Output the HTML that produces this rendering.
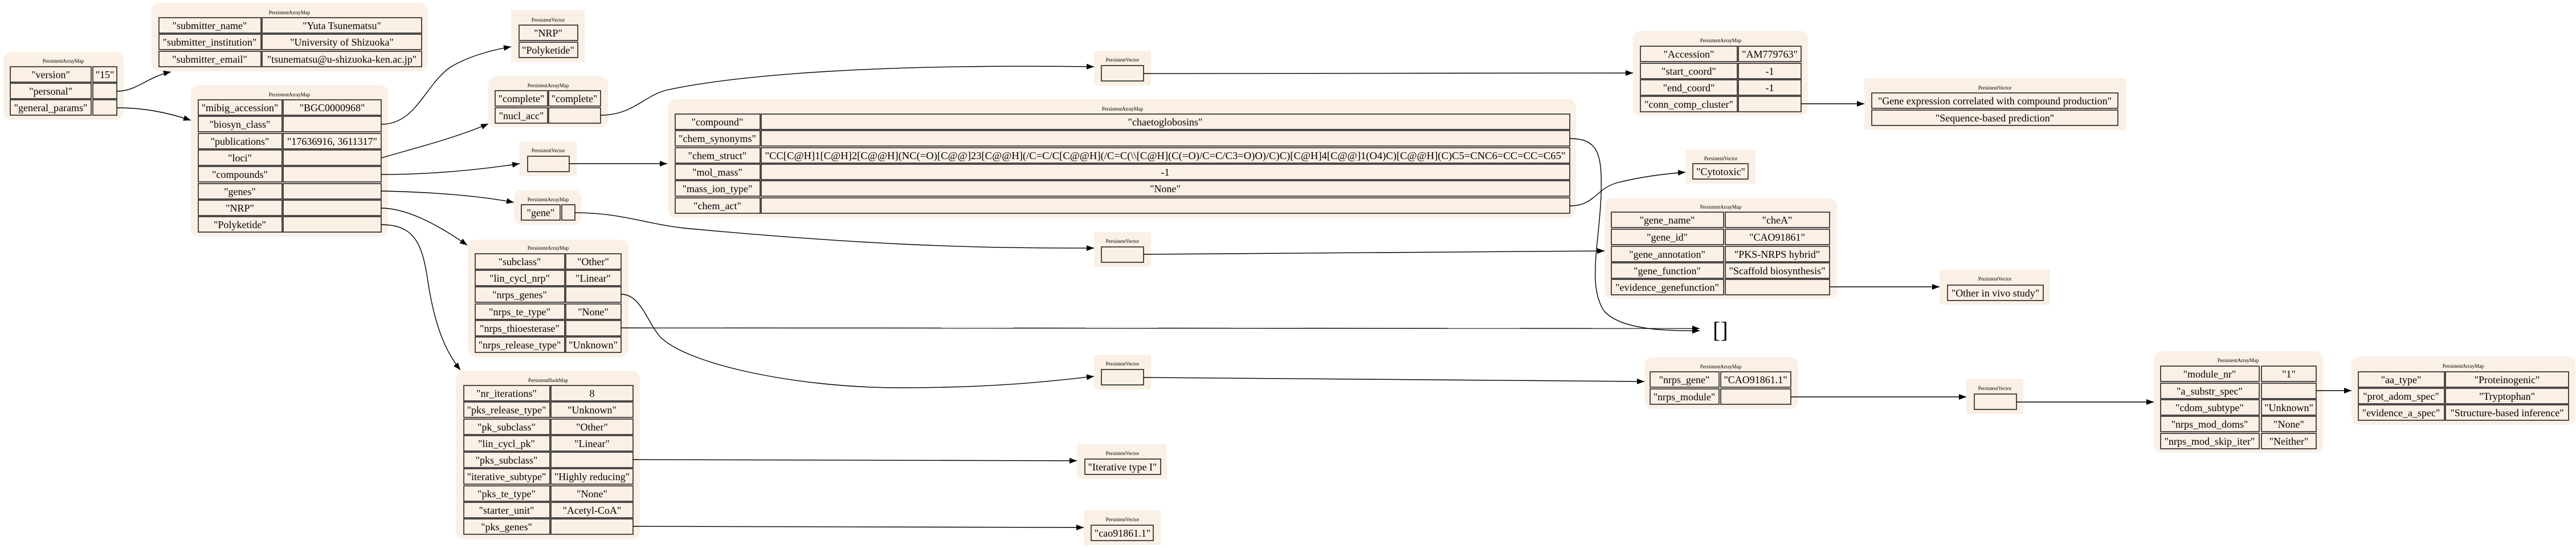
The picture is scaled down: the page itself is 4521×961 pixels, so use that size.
<!DOCTYPE html>
<html><head><meta charset="utf-8"><style>
html,body{margin:0;padding:0;background:#fff;}
svg{display:block;}
.bg{fill:#faf0e6;}
.c{fill:#faf0e6;stroke:#222;stroke-width:1.6;}
.t{font-family:"Liberation Serif",serif;font-size:18px;text-anchor:middle;fill:#000;}
.h{font-family:"Liberation Serif",serif;font-size:9px;text-anchor:middle;fill:#000;}
.e{fill:none;stroke:#000;stroke-width:1.4;}
</style></head><body>
<svg width="4521" height="961" viewBox="0 0 4521 961" xmlns="http://www.w3.org/2000/svg">
<defs><marker id="a" markerUnits="userSpaceOnUse" markerWidth="14" markerHeight="10" refX="13" refY="5" orient="auto"><polygon points="0,0 13,5 0,10" fill="#000"/></marker></defs>

<!-- root -->
<rect class="bg" x="6" y="91" width="211" height="119" rx="14"/>
<text class="h" x="111" y="110">PersistentArrayMap</text>
<rect class="c" x="18" y="117" width="142" height="27"/><text class="t" x="89" y="137">"version"</text>
<rect class="c" x="163" y="117" width="42" height="27"/><text class="t" x="184" y="137">"15"</text>
<rect class="c" x="18" y="146" width="142" height="27"/><text class="t" x="89" y="166">"personal"</text>
<rect class="c" x="163" y="146" width="42" height="27"/>
<rect class="c" x="18" y="175" width="142" height="27"/><text class="t" x="89" y="195">"general_params"</text>
<rect class="c" x="163" y="175" width="42" height="27"/>

<!-- submitter -->
<rect class="bg" x="266" y="5" width="485" height="120" rx="14"/>
<text class="h" x="508" y="25">PersistentArrayMap</text>
<rect class="c" x="279" y="31" width="179" height="27"/><text class="t" x="368" y="51">"submitter_name"</text>
<rect class="c" x="460" y="31" width="280" height="27"/><text class="t" x="600" y="51">"Yuta Tsunematsu"</text>
<rect class="c" x="279" y="60" width="179" height="27"/><text class="t" x="368" y="80">"submitter_institution"</text>
<rect class="c" x="460" y="60" width="280" height="27"/><text class="t" x="600" y="80">"University of Shizuoka"</text>
<rect class="c" x="279" y="90" width="179" height="27"/><text class="t" x="368" y="110">"submitter_email"</text>
<rect class="c" x="460" y="90" width="280" height="27"/><text class="t" x="600" y="110">"tsunematsu@u-shizuoka-ken.ac.jp"</text>

<!-- general -->
<rect class="bg" x="335" y="149" width="346" height="266" rx="14"/>
<text class="h" x="508" y="169">PersistentArrayMap</text>
<g>
<rect class="c" x="348" y="175" width="147" height="27"/><text class="t" x="421" y="195">"mibig_accession"</text>
<rect class="c" x="497" y="175" width="172" height="27"/><text class="t" x="583" y="195">"BGC0000968"</text>
<rect class="c" x="348" y="204" width="147" height="27"/><text class="t" x="421" y="224">"biosyn_class"</text>
<rect class="c" x="497" y="204" width="172" height="27"/>
<rect class="c" x="348" y="234" width="147" height="27"/><text class="t" x="421" y="254">"publications"</text>
<rect class="c" x="497" y="234" width="172" height="27"/><text class="t" x="583" y="254">"17636916, 3611317"</text>
<rect class="c" x="348" y="263" width="147" height="27"/><text class="t" x="421" y="283">"loci"</text>
<rect class="c" x="497" y="263" width="172" height="27"/>
<rect class="c" x="348" y="292" width="147" height="27"/><text class="t" x="421" y="312">"compounds"</text>
<rect class="c" x="497" y="292" width="172" height="27"/>
<rect class="c" x="348" y="322" width="147" height="27"/><text class="t" x="421" y="342">"genes"</text>
<rect class="c" x="497" y="322" width="172" height="27"/>
<rect class="c" x="348" y="351" width="147" height="27"/><text class="t" x="421" y="371">"NRP"</text>
<rect class="c" x="497" y="351" width="172" height="27"/>
<rect class="c" x="348" y="380" width="147" height="27"/><text class="t" x="421" y="400">"Polyketide"</text>
<rect class="c" x="497" y="380" width="172" height="27"/>
</g>

<!-- NRP/Polyketide vector -->
<rect class="bg" x="897" y="18" width="129" height="91"/>
<text class="h" x="962" y="38">PersistentVector</text>
<rect class="c" x="911" y="44" width="103" height="27"/><text class="t" x="962" y="64">"NRP"</text>
<rect class="c" x="911" y="74" width="103" height="27"/><text class="t" x="962" y="94">"Polyketide"</text>

<!-- complete map -->
<rect class="bg" x="857" y="133" width="210" height="90" rx="14"/>
<text class="h" x="962" y="153">PersistentArrayMap</text>
<rect class="c" x="869" y="159" width="92" height="27"/><text class="t" x="915" y="179">"complete"</text>
<rect class="c" x="963" y="159" width="91" height="27"/><text class="t" x="1008" y="179">"complete"</text>
<rect class="c" x="869" y="189" width="92" height="27"/><text class="t" x="915" y="209">"nucl_acc"</text>
<rect class="c" x="963" y="189" width="91" height="27"/>

<!-- vector2 -->
<rect class="bg" x="912" y="248" width="100" height="61"/>
<text class="h" x="962" y="267">PersistentVector</text>
<rect class="c" x="926" y="274" width="73" height="27"/>

<!-- gene map -->
<rect class="bg" x="902" y="333" width="119" height="61" rx="14"/>
<text class="h" x="962" y="353">PersistentArrayMap</text>
<rect class="c" x="915" y="359" width="68" height="27"/><text class="t" x="949" y="379">"gene"</text>
<rect class="c" x="986" y="359" width="23" height="27"/>

<!-- NRP map -->
<rect class="bg" x="821" y="420" width="282" height="206" rx="14"/>
<text class="h" x="962" y="438">PersistentArrayMap</text>
<rect class="c" x="834" y="445" width="157" height="27"/><text class="t" x="912" y="465">"subclass"</text>
<rect class="c" x="993" y="445" width="97" height="27"/><text class="t" x="1041" y="465">"Other"</text>
<rect class="c" x="834" y="474" width="157" height="27"/><text class="t" x="912" y="494">"lin_cycl_nrp"</text>
<rect class="c" x="993" y="474" width="97" height="27"/><text class="t" x="1041" y="494">"Linear"</text>
<rect class="c" x="834" y="503" width="157" height="27"/><text class="t" x="912" y="523">"nrps_genes"</text>
<rect class="c" x="993" y="503" width="97" height="27"/>
<rect class="c" x="834" y="533" width="157" height="27"/><text class="t" x="912" y="553">"nrps_te_type"</text>
<rect class="c" x="993" y="533" width="97" height="27"/><text class="t" x="1041" y="553">"None"</text>
<rect class="c" x="834" y="562" width="157" height="27"/><text class="t" x="912" y="582">"nrps_thioesterase"</text>
<rect class="c" x="993" y="562" width="97" height="27"/>
<rect class="c" x="834" y="591" width="157" height="27"/><text class="t" x="912" y="611">"nrps_release_type"</text>
<rect class="c" x="993" y="591" width="97" height="27"/><text class="t" x="1041" y="611">"Unknown"</text>

<!-- PKS hashmap -->
<rect class="bg" x="800" y="650" width="323" height="296" rx="14"/>
<text class="h" x="962" y="670">PersistentHashMap</text>
<rect class="c" x="814" y="676" width="151" height="27"/><text class="t" x="889" y="696">"nr_iterations"</text>
<rect class="c" x="967" y="676" width="144" height="27"/><text class="t" x="1039" y="696">8</text>
<rect class="c" x="814" y="705" width="151" height="27"/><text class="t" x="889" y="725">"pks_release_type"</text>
<rect class="c" x="967" y="705" width="144" height="27"/><text class="t" x="1039" y="725">"Unknown"</text>
<rect class="c" x="814" y="735" width="151" height="27"/><text class="t" x="889" y="755">"pk_subclass"</text>
<rect class="c" x="967" y="735" width="144" height="27"/><text class="t" x="1039" y="755">"Other"</text>
<rect class="c" x="814" y="764" width="151" height="27"/><text class="t" x="889" y="784">"lin_cycl_pk"</text>
<rect class="c" x="967" y="764" width="144" height="27"/><text class="t" x="1039" y="784">"Linear"</text>
<rect class="c" x="814" y="793" width="151" height="27"/><text class="t" x="889" y="813">"pks_subclass"</text>
<rect class="c" x="967" y="793" width="144" height="27"/>
<rect class="c" x="814" y="822" width="151" height="27"/><text class="t" x="889" y="842">"iterative_subtype"</text>
<rect class="c" x="967" y="822" width="144" height="27"/><text class="t" x="1039" y="842">"Highly reducing"</text>
<rect class="c" x="814" y="852" width="151" height="27"/><text class="t" x="889" y="872">"pks_te_type"</text>
<rect class="c" x="967" y="852" width="144" height="27"/><text class="t" x="1039" y="872">"None"</text>
<rect class="c" x="814" y="881" width="151" height="27"/><text class="t" x="889" y="901">"starter_unit"</text>
<rect class="c" x="967" y="881" width="144" height="27"/><text class="t" x="1039" y="901">"Acetyl-CoA"</text>
<rect class="c" x="814" y="910" width="151" height="27"/><text class="t" x="889" y="930">"pks_genes"</text>
<rect class="c" x="967" y="910" width="144" height="27"/>

<!-- compound map -->
<rect class="bg" x="1172" y="174" width="1594" height="208" rx="14"/>
<text class="h" x="1970" y="194">PersistentArrayMap</text>
<rect class="c" x="1185" y="200" width="149" height="27"/><text class="t" x="1259" y="220">"compound"</text>
<rect class="c" x="1336" y="200" width="1419" height="27"/><text class="t" x="2045" y="220">"chaetoglobosins"</text>
<rect class="c" x="1185" y="229" width="149" height="27"/><text class="t" x="1259" y="249">"chem_synonyms"</text>
<rect class="c" x="1336" y="229" width="1419" height="27"/>
<rect class="c" x="1185" y="259" width="149" height="27"/><text class="t" x="1259" y="279">"chem_struct"</text>
<rect class="c" x="1336" y="259" width="1419" height="27"/><text class="t" x="2045" y="279" textLength="1405" lengthAdjust="spacingAndGlyphs">"CC[C@H]1[C@H]2[C@@H](NC(=O)[C@@]23[C@@H](/C=C/C[C@@H](/C=C(\\[C@H](C(=O)/C=C/C3=O)O)/C)C)[C@H]4[C@@]1(O4)C)[C@@H](C)C5=CNC6=CC=CC=C65"</text>
<rect class="c" x="1185" y="288" width="149" height="27"/><text class="t" x="1259" y="308">"mol_mass"</text>
<rect class="c" x="1336" y="288" width="1419" height="27"/><text class="t" x="2045" y="308">-1</text>
<rect class="c" x="1185" y="317" width="149" height="27"/><text class="t" x="1259" y="337">"mass_ion_type"</text>
<rect class="c" x="1336" y="317" width="1419" height="27"/><text class="t" x="2045" y="337">"None"</text>
<rect class="c" x="1185" y="347" width="149" height="27"/><text class="t" x="1259" y="367">"chem_act"</text>
<rect class="c" x="1336" y="347" width="1419" height="27"/>

<!-- vector3 -->
<rect class="bg" x="1920" y="89" width="100" height="61"/>
<text class="h" x="1970" y="108">PersistentVector</text>
<rect class="c" x="1933" y="115" width="74" height="27"/>
<!-- vector4 -->
<rect class="bg" x="1920" y="407" width="100" height="61"/>
<text class="h" x="1970" y="426">PersistentVector</text>
<rect class="c" x="1933" y="433" width="74" height="27"/>
<!-- vector5 -->
<rect class="bg" x="1920" y="622" width="100" height="61"/>
<text class="h" x="1970" y="641">PersistentVector</text>
<rect class="c" x="1933" y="648" width="74" height="27"/>
<!-- iterative -->
<rect class="bg" x="1890" y="779" width="158" height="61"/>
<text class="h" x="1970" y="798">PersistentVector</text>
<rect class="c" x="1904" y="805" width="133" height="27"/><text class="t" x="1970" y="825">"Iterative type I"</text>
<!-- cao -->
<rect class="bg" x="1902" y="895" width="135" height="61"/>
<text class="h" x="1970" y="914">PersistentVector</text>
<rect class="c" x="1915" y="921" width="109" height="27"/><text class="t" x="1970" y="941">"cao91861.1"</text>

<!-- loci map -->
<rect class="bg" x="2866" y="54" width="307" height="149" rx="14"/>
<text class="h" x="3020" y="74">PersistentArrayMap</text>
<rect class="c" x="2879" y="81" width="170" height="27"/><text class="t" x="2964" y="101">"Accession"</text>
<rect class="c" x="3051" y="81" width="110" height="27"/><text class="t" x="3106" y="101">"AM779763"</text>
<rect class="c" x="2879" y="111" width="170" height="27"/><text class="t" x="2964" y="131">"start_coord"</text>
<rect class="c" x="3051" y="111" width="110" height="27"/><text class="t" x="3106" y="131">-1</text>
<rect class="c" x="2879" y="140" width="170" height="27"/><text class="t" x="2964" y="160">"end_coord"</text>
<rect class="c" x="3051" y="140" width="110" height="27"/><text class="t" x="3106" y="160">-1</text>
<rect class="c" x="2879" y="169" width="170" height="27"/><text class="t" x="2964" y="189">"conn_comp_cluster"</text>
<rect class="c" x="3051" y="169" width="110" height="27"/>

<!-- gene expr vector -->
<rect class="bg" x="3272" y="137" width="459" height="91"/>
<text class="h" x="3501" y="157">PersistentVector</text>
<rect class="c" x="3285" y="163" width="432" height="27"/><text class="t" x="3501" y="183">"Gene expression correlated with compound production"</text>
<rect class="c" x="3285" y="193" width="432" height="27"/><text class="t" x="3501" y="213">"Sequence-based prediction"</text>

<!-- cytotoxic -->
<rect class="bg" x="2958" y="262" width="123" height="60"/>
<text class="h" x="3020" y="281">PersistentVector</text>
<rect class="c" x="2971" y="287" width="97" height="27"/><text class="t" x="3020" y="307">"Cytotoxic"</text>

<!-- gene info map -->
<rect class="bg" x="2816" y="347" width="408" height="177" rx="14"/>
<text class="h" x="3020" y="366">PersistentArrayMap</text>
<rect class="c" x="2828" y="372" width="197" height="27"/><text class="t" x="2926" y="392">"gene_name"</text>
<rect class="c" x="3028" y="372" width="183" height="27"/><text class="t" x="3119" y="392">"cheA"</text>
<rect class="c" x="2828" y="402" width="197" height="27"/><text class="t" x="2926" y="422">"gene_id"</text>
<rect class="c" x="3028" y="402" width="183" height="27"/><text class="t" x="3119" y="422">"CAO91861"</text>
<rect class="c" x="2828" y="432" width="197" height="27"/><text class="t" x="2926" y="452">"gene_annotation"</text>
<rect class="c" x="3028" y="432" width="183" height="27"/><text class="t" x="3119" y="452">"PKS-NRPS hybrid"</text>
<rect class="c" x="2828" y="461" width="197" height="27"/><text class="t" x="2926" y="481">"gene_function"</text>
<rect class="c" x="3028" y="461" width="183" height="27"/><text class="t" x="3119" y="481">"Scaffold biosynthesis"</text>
<rect class="c" x="2828" y="490" width="197" height="27"/><text class="t" x="2926" y="510">"evidence_genefunction"</text>
<rect class="c" x="3028" y="490" width="183" height="27"/>

<!-- other in vivo -->
<rect class="bg" x="3404" y="473" width="194" height="61"/>
<text class="h" x="3501" y="492">PersistentVector</text>
<rect class="c" x="3418" y="500" width="168" height="27"/><text class="t" x="3502" y="520">"Other in vivo study"</text>

<!-- [] -->
<text x="3006" y="592" style="font-family:'Liberation Serif',serif;font-size:40px;">[]</text>

<!-- nrps module map -->
<rect class="bg" x="2886" y="626" width="270" height="91" rx="14"/>
<text class="h" x="3020" y="646">PersistentArrayMap</text>
<rect class="c" x="2896" y="652" width="121" height="27"/><text class="t" x="2956" y="672">"nrps_gene"</text>
<rect class="c" x="3020" y="652" width="123" height="27"/><text class="t" x="3081" y="672">"CAO91861.1"</text>
<rect class="c" x="2896" y="682" width="121" height="27"/><text class="t" x="2956" y="702">"nrps_module"</text>
<rect class="c" x="3020" y="682" width="123" height="27"/>

<!-- vector6 -->
<rect class="bg" x="3451" y="665" width="100" height="61"/>
<text class="h" x="3501" y="684">PersistentVector</text>
<rect class="c" x="3465" y="691" width="74" height="27"/>

<!-- module map -->
<rect class="bg" x="3780" y="616" width="297" height="178" rx="14"/>
<text class="h" x="3928" y="635">PersistentArrayMap</text>
<rect class="c" x="3792" y="642" width="173" height="27"/><text class="t" x="3878" y="662">"module_nr"</text>
<rect class="c" x="3969" y="642" width="96" height="27"/><text class="t" x="4017" y="662">"1"</text>
<rect class="c" x="3792" y="672" width="173" height="27"/><text class="t" x="3878" y="692">"a_substr_spec"</text>
<rect class="c" x="3969" y="672" width="96" height="27"/>
<rect class="c" x="3792" y="701" width="173" height="27"/><text class="t" x="3878" y="721">"cdom_subtype"</text>
<rect class="c" x="3969" y="701" width="96" height="27"/><text class="t" x="4017" y="721">"Unknown"</text>
<rect class="c" x="3792" y="730" width="173" height="27"/><text class="t" x="3878" y="750">"nrps_mod_doms"</text>
<rect class="c" x="3969" y="730" width="96" height="27"/><text class="t" x="4017" y="750">"None"</text>
<rect class="c" x="3792" y="760" width="173" height="27"/><text class="t" x="3878" y="780">"nrps_mod_skip_iter"</text>
<rect class="c" x="3969" y="760" width="96" height="27"/><text class="t" x="4017" y="780">"Neither"</text>

<!-- aa map -->
<rect class="bg" x="4127" y="625" width="393" height="120" rx="14"/>
<text class="h" x="4323" y="645">PersistentArrayMap</text>
<rect class="c" x="4139" y="652" width="151" height="27"/><text class="t" x="4214" y="672">"aa_type"</text>
<rect class="c" x="4292" y="652" width="216" height="27"/><text class="t" x="4400" y="672">"Proteinogenic"</text>
<rect class="c" x="4139" y="681" width="151" height="27"/><text class="t" x="4214" y="701">"prot_adom_spec"</text>
<rect class="c" x="4292" y="681" width="216" height="27"/><text class="t" x="4400" y="701">"Tryptophan"</text>
<rect class="c" x="4139" y="710" width="151" height="27"/><text class="t" x="4214" y="730">"evidence_a_spec"</text>
<rect class="c" x="4292" y="710" width="216" height="27"/><text class="t" x="4400" y="730">"Structure-based inference"</text>

<!-- edges -->
<g class="e" marker-end="url(#a)">
<path class="e" marker-end="url(#a)" d="M205,160 C240,160 258,135 300,126"/>
<path class="e" marker-end="url(#a)" d="M205,189 C250,189 290,196 335,211"/>
<path class="e" marker-end="url(#a)" d="M669,218 C730,218 745,150 790,118 C820,100 860,88 897,82"/>
<path class="e" marker-end="url(#a)" d="M669,277 C720,262 800,242 857,217"/>
<path class="e" marker-end="url(#a)" d="M669,306 C760,306 840,298 912,287"/>
<path class="e" marker-end="url(#a)" d="M669,335 C760,337 840,343 902,355"/>
<path class="e" marker-end="url(#a)" d="M669,365 C715,365 770,395 820,430"/>
<path class="e" marker-end="url(#a)" d="M669,394 C730,394 742,430 752,500 C765,580 785,620 808,649"/>
<path class="e" marker-end="url(#a)" d="M1054,202 C1110,202 1130,168 1170,158 C1300,130 1550,112 1920,117"/>
<path class="e" marker-end="url(#a)" d="M999,287 L1171,287"/>
<path class="e" marker-end="url(#a)" d="M1009,373 C1090,373 1130,392 1200,400 C1500,428 1700,436 1920,435"/>
<path class="e" marker-end="url(#a)" d="M2007,129 L2866,128"/>
<path class="e" marker-end="url(#a)" d="M2007,446 L2816,440"/>
<path class="e" marker-end="url(#a)" d="M2755,243 C2805,243 2812,270 2810,340 C2808,420 2785,500 2815,545 C2845,580 2930,580 2983,580"/>
<path class="e" marker-end="url(#a)" d="M2755,361 C2800,361 2800,330 2840,320 C2880,310 2920,305 2958,302"/>
<path class="e" marker-end="url(#a)" d="M3161,182 L3272,182"/>
<path class="e" marker-end="url(#a)" d="M3211,503 L3404,503"/>
<path class="e" marker-end="url(#a)" d="M1090,516 C1125,516 1135,565 1160,592 C1210,640 1400,680 1580,680 C1750,680 1850,668 1920,660"/>
<path class="e" marker-end="url(#a)" d="M1090,575 L2983,576"/>
<path class="e" marker-end="url(#a)" d="M2007,662 L2886,669"/>
<path class="e" marker-end="url(#a)" d="M1111,806 L1890,808"/>
<path class="e" marker-end="url(#a)" d="M1111,923 L1902,925"/>
<path class="e" marker-end="url(#a)" d="M3143,696 L3451,696"/>
<path class="e" marker-end="url(#a)" d="M3539,705 L3780,705"/>
<path class="e" marker-end="url(#a)" d="M4065,685 L4127,685"/>
</g>
</svg>
</body></html>
